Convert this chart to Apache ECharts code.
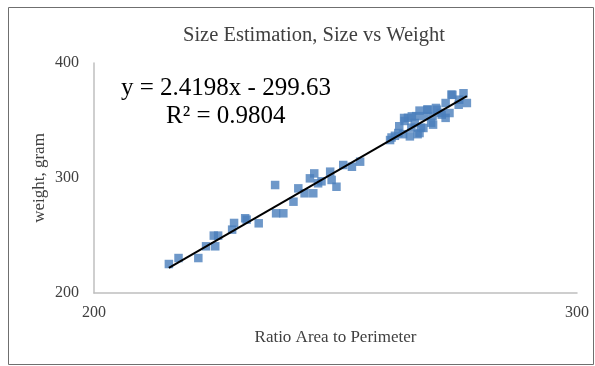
<!DOCTYPE html>
<html>
<head>
<meta charset="utf-8">
<script src="https://cdn.jsdelivr.net/npm/echarts@6/dist/echarts.min.js"></script>
<style>
	html, body { margin: 0; padding: 0; background: #fff; }
	#chart { width: 595px; height: 366px; }
</style>
</head>
<body>
<div id="chart"></div>
<script>
// ratio area to perimeter (x) and weight in gram (y)
var ratioValues = [
	215.5, 217.5, 221.6, 223.2, 225.1, 224.8, 225.7, 228.6, 229.0, 231.6,
	231.3, 234.1, 237.5, 237.7, 239.2, 241.3, 242.3, 243.6, 244.7, 245.6,
	245.4, 246.4, 247.1, 248.9, 249.2, 250.2, 251.6, 253.4, 255.1,
	261.3, 262.3, 261.6, 263.0, 264.0, 264.3, 265.0, 265.7, 266.7, 267.0,
	267.4, 267.7, 268.4, 269.1, 269.8, 270.1, 270.8, 271.8, 272.0, 272.8,
	272.8, 273.6, 274.2, 275.5, 276.5, 277.2, 265.4, 267.4,
	264.2, 265.8, 269.0, 271.0, 270.2, 268.2, 274.0, 275.6, 266.4, 263.2
];
var weightValues = [
	225.2, 230.4, 230.4, 240.6, 240.6, 249.9, 249.9, 255.1, 260.9, 263.8,
	265.0, 260.6, 293.9, 269.3, 269.3, 279.4, 291.0, 286.7, 299.7, 304.0,
	286.7, 295.4, 297.1, 305.5, 298.3, 292.4, 311.3, 309.8, 314.2,
	333.0, 336.7, 335.2, 339.1, 338.1, 349.6, 352.3, 343.8, 353.8, 338.1,
	358.6, 343.8, 353.8, 359.5, 348.1, 353.8, 360.9, 356.6, 355.1, 365.2,
	352.3, 356.5, 372.3, 363.7, 373.7, 365.2, 336.2, 339.1,
	352.2, 353.6, 359.4, 359.4, 346.4, 343.5, 372.5, 368.1, 347.8, 345.0
];
var xTicks = [200, 300];
var yTicks = [200, 300, 400];

// linear trend given on the chart
var slope = 2.4198;
var intercept = -299.63;
var rSquared = 0.9804;

var points = ratioValues.map(function(v, i) {
	return [v, weightValues[i]];
});
var xMin = Math.min.apply(null, ratioValues),
	xMax = Math.max.apply(null, ratioValues);
var trendData = [
	[xMin, slope * xMin + intercept],
	[xMax, slope * xMax + intercept]
];

var serif = '"Liberation Serif", "DejaVu Serif", serif';
var myChart = echarts.init(document.getElementById('chart'));

var option = {
	backgroundColor: '#fff',
	animation: false,
	title: {
		text: 'Size Estimation, Size vs Weight',
		left: 178,
		top: 20,
		textStyle: {
			fontFamily: serif,
			fontSize: 20.5,
			fontWeight: 'normal',
			color: '#404040'
		}
	},
	grid: {
		left: 94,
		right: 18,
		top: 63,
		bottom: 73
	},
	xAxis: {
		type: 'value',
		min: xTicks[0],
		max: xTicks[xTicks.length - 1],
		interval: 100,
		name: 'Ratio Area to Perimeter',
		nameLocation: 'middle',
		nameGap: 36,
		nameMoveOverlap: false,
		nameTextStyle: { fontFamily: serif, fontSize: 17, color: '#404040' },
		axisLine: { show: true, lineStyle: { color: '#bfbfbf', width: 1.5 } },
		axisTick: { show: false },
		splitLine: { show: false },
		axisLabel: { margin: 12, fontFamily: serif, fontSize: 16, color: '#404040' }
	},
	yAxis: {
		type: 'value',
		min: yTicks[0],
		max: yTicks[yTicks.length - 1],
		interval: 100,
		name: 'weight, gram',
		nameLocation: 'middle',
		nameGap: 46,
		nameMoveOverlap: false,
		nameTextStyle: { fontFamily: serif, fontSize: 17, color: '#404040' },
		axisLine: { show: true, lineStyle: { color: '#bfbfbf', width: 1.5 } },
		axisTick: { show: false },
		splitLine: { show: false },
		axisLabel: { margin: 15, fontFamily: serif, fontSize: 16, color: '#404040' }
	},
	graphic: [{
		type: 'rect',
		shape: { x: 8.5, y: 7.5, width: 585, height: 357 },
		style: { fill: 'none', stroke: '#6f6f6f', lineWidth: 1 },
		silent: true
	}, {
		type: 'text',
		left: 121,
		top: 76,
		style: {
			text: 'y = ' + slope + 'x - ' + Math.abs(intercept),
			font: '25px ' + serif,
			fill: '#000'
		}
	}, {
		type: 'text',
		left: 166,
		top: 104,
		style: {
			text: 'R² = ' + rSquared,
			font: '25px ' + serif,
			fill: '#000'
		}
	}],
	series: [{
		type: 'scatter',
		symbol: 'rect',
		symbolSize: 8.5,
		itemStyle: { color: '#4a7ebb' },
		data: points,
		z: 2
	}, {
		type: 'line',
		data: trendData,
		symbol: 'none',
		lineStyle: { color: '#000', width: 2 },
		z: 3
	}]
};

myChart.setOption(option);
</script>
</body>
</html>
